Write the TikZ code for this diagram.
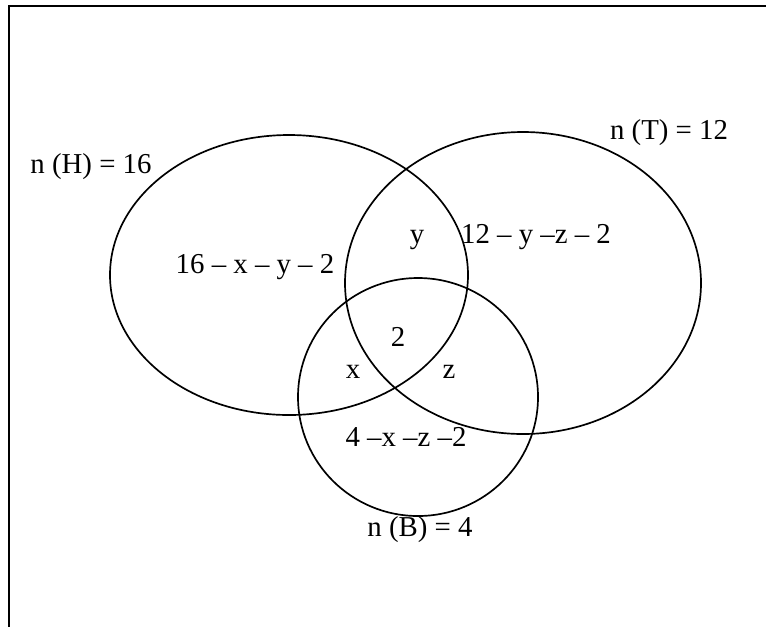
\documentclass[tikz,border=0pt]{standalone}
\usepackage{fontspec}
\setmainfont{Liberation Serif}
\usepackage{tikz}
\usetikzlibrary{positioning}
\tikzset{
	frameline/.style={line width=1.7pt, black},
	setline/.style={line width=1.2pt, black},
	setlabel/.style={inner sep=0pt, font=\fontsize{20.5}{23}\selectfont},
	region/.style={inner sep=0pt, font=\fontsize{20.5}{23}\selectfont}
}

\begin{document}
\begin{tikzpicture}[x=0.025cm, y=-0.025cm]
		\useasboundingbox (0,0) rectangle (766,627);
		% Rahmen (nur oben und links sichtbar)
		\coordinate (cornerTL) at (9,6);
		\coordinate (cornerTR) at (766,6);
		\coordinate (cornerBL) at (9,627);
		\draw [frameline] (cornerTR) -- (cornerTL) -- (cornerBL);
		
		% Mengen H, T und B
		\draw [setline] (289,275) ellipse [x radius=179, y radius=140];
		\draw [setline] (523,283) ellipse [x radius=178, y radius=151];
		\draw [setline] (418,397) ellipse [x radius=120, y radius=119];
		
		% Mengenbeschriftungen
		\node (nH) [setlabel] at (91,167) {n (H) = 16};
		\node (nT) [setlabel] at (669,133) {n (T) = 12};
		\node (nB) [setlabel] at (420,530) {n (B) = 4};
		
		% Bereiche
		\node (onlyH) [region] at (255,267) {16 – x – y – 2};
		\node (onlyT) [region] at (536,237) {12 – y –z – 2};
		\node (onlyB) [region] at (406,437) {4 –x –z –2};
		\node (HT) [region] at (417,240) {y};
		\node (HB) [region] at (353,372) {x};
		\node (TB) [region] at (449,372) {z};
		\node (HTB) [region] at (398,337) {2};
	\end{tikzpicture}
\end{document}
